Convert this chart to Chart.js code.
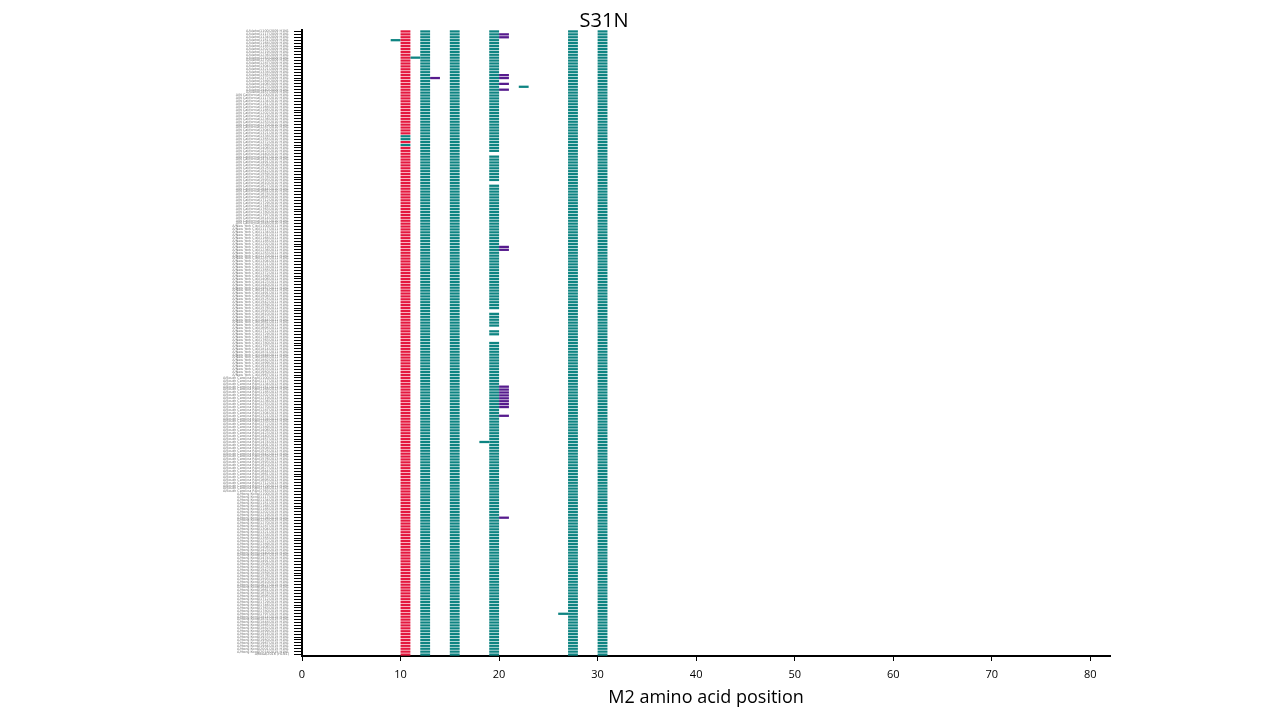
<!DOCTYPE html>
<html>
<head>
<meta charset="utf-8">
<script src="https://cdn.jsdelivr.net/npm/chart.js@4.4.1/dist/chart.umd.min.js"></script>
<style>
  body { margin: 0; background: #fff; }
  #wrap { position: relative; width: 1280px; height: 720px; }
  #title { position: absolute; left: 0; top: 6px; width: 1208px; text-align: center;
           font: 20px 'Open Sans', sans-serif; color: #000; }
</style>
</head>
<body>
<div id="wrap">
  <canvas id="chart"></canvas>
  <div id="title">S31N</div>
</div>
<script>
// sequence groups (names are too small to read in the reference)
const groupPlaces = ['Idaho', 'N California', 'New York City', 'South Carolina Rgn', 'Hong Kong', 'Iowa'];
const groupYears  = [2009, 2010, 2011, 2013, 2015, 2016];
const groupSizes  = [22, 45, 52, 40, 55, 1];

// columns present in (almost) every sequence
const redPos = 10;
const redMissingRows = [36, 37, 39];
const tealColumns = [12, 15, 19, 27, 30];
const pos19GapRows = [42, 52, 96, 102, 105, 106];

// purple mutation at position 20
const purplePos = 20;
const purpleRows = [1, 2, 15, 16, 18, 20, 74, 75, 122, 123, 124, 125, 126, 127, 128, 129, 132, 167];

// single teal marks
const singleTealPos  = [10, 10, 10, 9, 11, 22, 18, 26];
const singleTealRows = [36, 37, 39, 3, 9, 19, 141, 200];

// single purple marks
const singlePurplePos  = [13];
const singlePurpleRows = [16];

const xTicks = [0, 10, 20, 30, 40, 50, 60, 70, 80];

const RED = '#e4183f', TEAL = '#0e8482', PURPLE = '#561b8d';

const labels = [];
groupSizes.forEach((n, g) => {
  for (let k = 0; k < n; k++) {
    labels.push(g === 5 ? 'A/' + groupPlaces[g] + '/' + groupYears[g] + ' (H1N1)'
      : 'A/' + groupPlaces[g] + '/' + (1100 + k * 17) + '/' + groupYears[g] + ' H1N1');
  }
});
const rowCount = labels.length;

function emptyRows() { return new Array(rowCount).fill(null); }

const datasets = [];

const red = emptyRows();
for (let i = 0; i < rowCount; i++) if (!redMissingRows.includes(i)) red[i] = [redPos, redPos + 1];
datasets.push({ data: red, backgroundColor: RED });

tealColumns.forEach(p => {
  const d = emptyRows();
  for (let i = 0; i < rowCount; i++) {
    if (p === 19 && pos19GapRows.includes(i)) continue;
    d[i] = [p, p + 1];
  }
  datasets.push({ data: d, backgroundColor: TEAL });
});

const purple = emptyRows();
purpleRows.forEach(r => { purple[r] = [purplePos, purplePos + 1]; });
datasets.push({ data: purple, backgroundColor: PURPLE });

const tealSingles = emptyRows();
singleTealRows.forEach((r, k) => { tealSingles[r] = [singleTealPos[k], singleTealPos[k] + 1]; });
datasets.push({ data: tealSingles, backgroundColor: TEAL });

const purpleSingles = emptyRows();
singlePurpleRows.forEach((r, k) => { purpleSingles[r] = [singlePurplePos[k], singlePurplePos[k] + 1]; });
datasets.push({ data: purpleSingles, backgroundColor: PURPLE });

new Chart(document.getElementById('chart'), {
  type: 'bar',
  data: { labels: labels, datasets: datasets },
  options: {
    indexAxis: 'y',
    responsive: true,
    maintainAspectRatio: false,
    animation: false,
    datasets: { bar: { grouped: false, barPercentage: 0.78, categoryPercentage: 1 } },
    layout: { padding: { top: 30, right: 170, bottom: 6, left: 0 } },
    plugins: { legend: { display: false }, tooltip: { enabled: false }, title: { display: false } },
    scales: {
      y: {
        type: 'category',
        offset: true,
        afterFit: s => { s.width = 302; },
        grid: { drawOnChartArea: false, offset: false, tickLength: 8, color: '#000', lineWidth: 1 },
        border: { color: '#000', width: 2 },
        ticks: { autoSkip: false, padding: 5, color: '#707070', font: { size: 3.4, family: 'DejaVu Sans' } }
      },
      x: {
        type: 'linear',
        min: 0,
        max: 82,
        afterFit: s => { s.height = 58; },
        afterBuildTicks: s => { s.ticks = xTicks.map(v => ({ value: v })); },
        grid: { drawOnChartArea: false, tickLength: 5, color: '#000' },
        border: { color: '#000', width: 2 },
        ticks: { padding: 7, color: '#000', font: { size: 11, family: 'Open Sans' } },
        title: { display: true, text: 'M2 amino acid position', color: '#000',
                 font: { size: 18, family: 'Open Sans' }, padding: { top: 0, bottom: 5 } }
      }
    }
  }
});
</script>
</body>
</html>
